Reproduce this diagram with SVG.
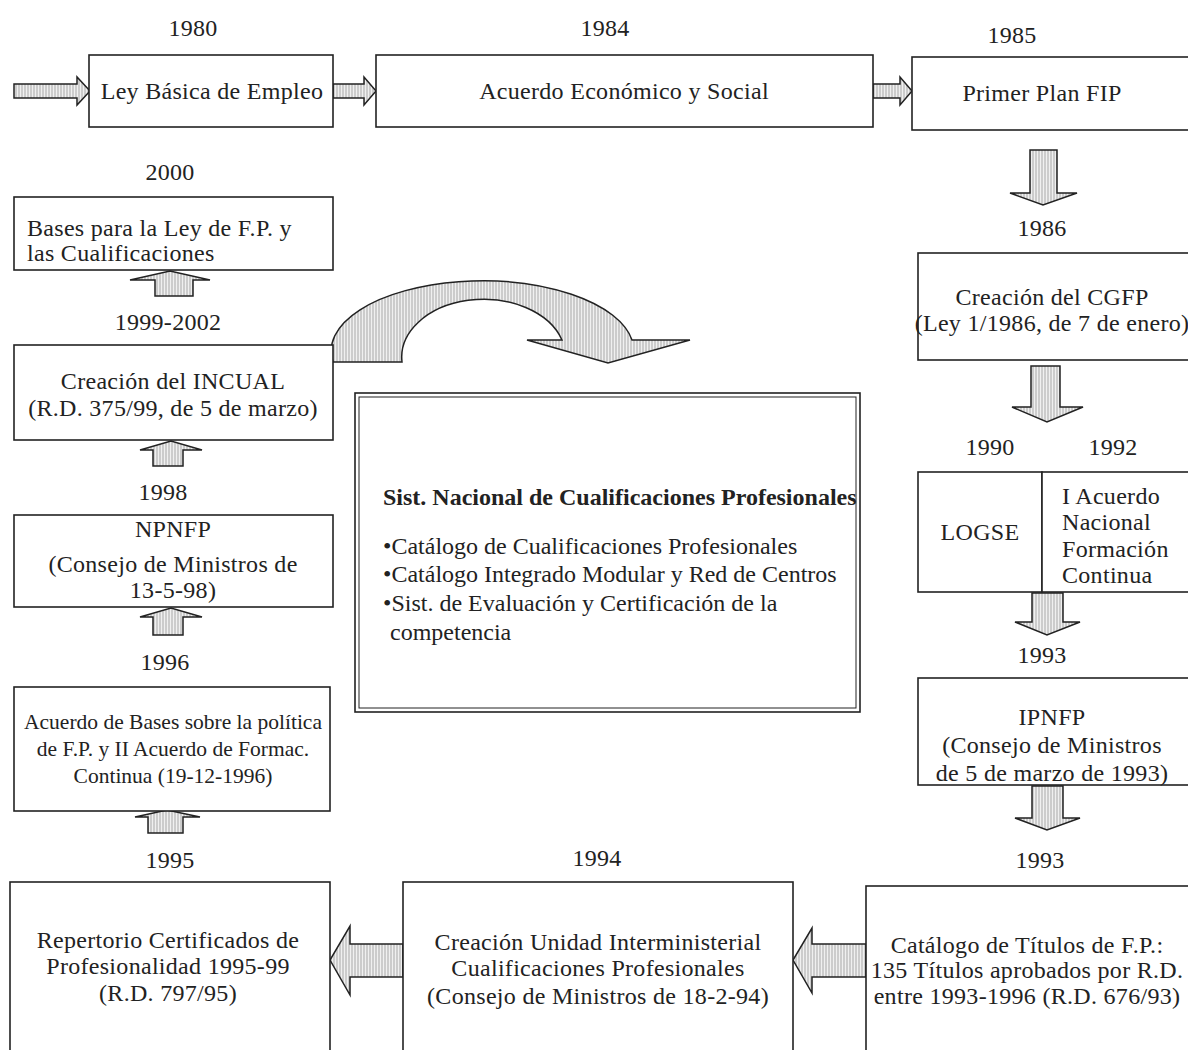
<svg xmlns="http://www.w3.org/2000/svg" width="1188" height="1050" viewBox="0 0 1188 1050">
<defs>
<pattern id="hatch" width="3" height="4" patternUnits="userSpaceOnUse">
<rect width="3" height="4" fill="#f0f0f0"/>
<line x1="1" y1="0" x2="1" y2="4" stroke="#a8a8a8" stroke-width="1"/>
</pattern>
<style>
.box{fill:#fff;stroke:#222;stroke-width:1.6}
.arr{fill:url(#hatch);stroke:#222;stroke-width:1.5;stroke-linejoin:miter}
text{font-family:"Liberation Serif","Times New Roman",serif;font-size:24px;letter-spacing:0.3px;fill:#222}
.c{text-anchor:middle}
.yr{text-anchor:middle;font-size:24px}
.sm{font-size:21.5px;letter-spacing:0}
.b{font-weight:bold;font-size:24px;letter-spacing:0}
.bl{font-size:24px;letter-spacing:0}
</style>
</defs>
<rect width="1188" height="1050" fill="#fff"/>

<g id="connectors">
<path class="arr" d="M14,84 H77 V77 L90,91 L77,105 V98 H14 Z"/>
<path class="arr" d="M333,84 H364 V77 L376,91 L364,105 V98 H333 Z"/>
<path class="arr" d="M873,84 H900 V77 L912,91 L900,105 V98 H873 Z"/>
<path class="arr" d="M1030,150 H1057 V193 H1077 L1043,205 L1010,193 H1030 Z"/>
<path class="arr" d="M1031,366 H1060 V407 H1083 L1047,422 L1012,407 H1031 Z"/>
<path class="arr" d="M1032,593 H1063 V622 H1080 L1047,635 L1015,622 H1032 Z"/>
<path class="arr" d="M1032,786 H1063 V818 H1080 L1047,830 L1015,818 H1032 Z"/>
<path class="arr" d="M866,944 H812 V928 L793,960 L812,993 V977 H866 Z"/>
<path class="arr" d="M403,944 H350 V926 L330,960 L350,995 V977 H403 Z"/>
<path class="arr" d="M155,296 V280 H130 L170,271 L210,280 H193 V296 Z"/>
<path class="arr" d="M153,466 V450 H140 L171,441 L202,450 H183 V466 Z"/>
<path class="arr" d="M153,635 V617 H140 L171,608 L202,617 H183 V635 Z"/>
<path class="arr" d="M148,833 V817 H135 L167,810 L200,817 H183 V833 Z"/>
<path class="arr" d="M333,362 A151,70 0 0 1 632,340 L690,340 L608,363 L527,340 L562,340 A82,58 0 0 0 402,362 Z"/>
</g>

<g id="year-labels">
<text class="yr" x="193" y="36">1980</text>
<text class="yr" x="605" y="36">1984</text>
<text class="yr" x="1012" y="43">1985</text>
<text class="yr" x="1042" y="236">1986</text>
<text class="yr" x="990" y="455">1990</text>
<text class="yr" x="1113" y="455">1992</text>
<text class="yr" x="1042" y="663">1993</text>
<text class="yr" x="1040" y="868">1993</text>
<text class="yr" x="597" y="866">1994</text>
<text class="yr" x="170" y="868">1995</text>
<text class="yr" x="165" y="670">1996</text>
<text class="yr" x="163" y="500">1998</text>
<text class="yr" x="168" y="330">1999-2002</text>
<text class="yr" x="170" y="180">2000</text>
</g>

<g id="n-ley-basica">
<rect class="box" x="89" y="55" width="244" height="72"/>
<text class="c" x="212" y="99">Ley Básica de Empleo</text>
</g>
<g id="n-acuerdo-economico">
<rect class="box" x="376" y="55" width="497" height="72"/>
<text class="c" x="624" y="99">Acuerdo Económico y Social</text>
</g>
<g id="n-primer-plan">
<rect class="box" x="912" y="57" width="280" height="73"/>
<text class="c" x="1042" y="101">Primer Plan FIP</text>
</g>
<g id="n-cgfp">
<rect class="box" x="918" y="253" width="274" height="107"/>
<text class="c" x="1052" y="305">Creación del CGFP</text>
<text class="c" x="1052" y="331">(Ley 1/1986, de 7 de enero)</text>
</g>
<g id="n-logse">
<rect class="box" x="918" y="472" width="124" height="120"/>
<text class="c" x="980" y="540">LOGSE</text>
</g>
<g id="n-acuerdo-nacional">
<rect class="box" x="1042" y="472" width="150" height="120"/>
<text x="1062" y="504">I Acuerdo</text>
<text x="1062" y="530">Nacional</text>
<text x="1062" y="557">Formación</text>
<text x="1062" y="583">Continua</text>
</g>
<g id="n-ipnfp">
<rect class="box" x="918" y="678" width="274" height="107"/>
<text class="c" x="1052" y="725">IPNFP</text>
<text class="c" x="1052" y="753">(Consejo de Ministros</text>
<text class="c" x="1052" y="781">de 5 de marzo de 1993)</text>
</g>
<g id="n-catalogo-titulos">
<rect class="box" x="866" y="886" width="326" height="170"/>
<text class="c" x="1027" y="953">Catálogo de Títulos de F.P.:</text>
<text class="c" x="1027" y="978">135 Títulos aprobados por R.D.</text>
<text class="c" x="1027" y="1004">entre 1993-1996 (R.D. 676/93)</text>
</g>
<g id="n-unidad-interministerial">
<rect class="box" x="403" y="882" width="390" height="174"/>
<text class="c" x="598" y="950">Creación Unidad Interministerial</text>
<text class="c" x="598" y="976">Cualificaciones Profesionales</text>
<text class="c" x="598" y="1004">(Consejo de Ministros de 18-2-94)</text>
</g>
<g id="n-repertorio">
<rect class="box" x="10" y="882" width="320" height="174"/>
<text class="c" x="168" y="948">Repertorio Certificados de</text>
<text class="c" x="168" y="974">Profesionalidad 1995-99</text>
<text class="c" x="168" y="1001">(R.D. 797/95)</text>
</g>
<g id="n-acuerdo-bases">
<rect class="box" x="14" y="687" width="316" height="124"/>
<text class="c sm" x="173" y="729">Acuerdo de Bases sobre la política</text>
<text class="c sm" x="173" y="756">de F.P. y II Acuerdo de Formac.</text>
<text class="c sm" x="173" y="783">Continua (19-12-1996)</text>
</g>
<g id="n-npnfp">
<rect class="box" x="14" y="515" width="319" height="92"/>
<text class="c" x="173" y="537">NPNFP</text>
<text class="c" x="173" y="572">(Consejo de Ministros de</text>
<text class="c" x="173" y="598">13-5-98)</text>
</g>
<g id="n-incual">
<rect class="box" x="14" y="345" width="319" height="95"/>
<text class="c" x="173" y="389">Creación del INCUAL</text>
<text class="c" x="173" y="416">(R.D. 375/99, de 5 de marzo)</text>
</g>
<g id="n-bases-ley">
<rect class="box" x="14" y="197" width="319" height="73"/>
<text x="27" y="236">Bases para la Ley de F.P. y</text>
<text x="27" y="261">las Cualificaciones</text>
</g>
<g id="n-sist-nacional">
<rect x="355" y="393" width="505" height="319" fill="#fff" stroke="#222" stroke-width="1.6"/>
<rect x="359" y="397" width="497" height="311" fill="none" stroke="#222" stroke-width="1"/>
<text class="b" x="383" y="505">Sist. Nacional de Cualificaciones Profesionales</text>
<text class="bl" x="383" y="554">•Catálogo de Cualificaciones Profesionales</text>
<text class="bl" x="383" y="582">•Catálogo Integrado Modular y Red de Centros</text>
<text class="bl" x="383" y="611">•Sist. de Evaluación y Certificación de la</text>
<text class="bl" x="390" y="640">competencia</text>
</g>
</svg>
